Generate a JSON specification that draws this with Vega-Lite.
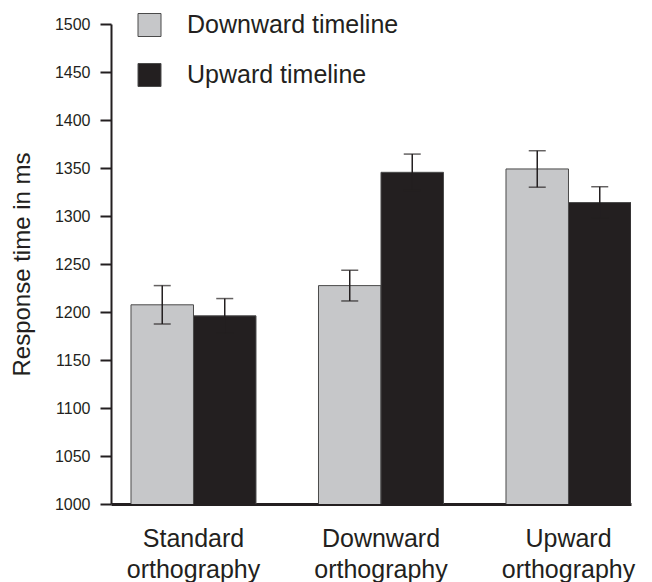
{
  "$schema": "https://vega.github.io/schema/vega-lite/v6.json",
  "autosize": "none",
  "width": 520,
  "height": 480,
  "padding": {"left": 111, "top": 24, "right": 21, "bottom": 78},
  "background": "white",
  "config": {
    "view": {"stroke": null},
    "font": "Liberation Sans"
  },
  "data": {
    "values": [
      {"orthography": "Standard orthography", "timeline": "Downward timeline", "rt": 1207.5, "lo": 1187.5, "hi": 1227.5},
      {"orthography": "Standard orthography", "timeline": "Upward timeline", "rt": 1196, "lo": 1178, "hi": 1214},
      {"orthography": "Downward orthography", "timeline": "Downward timeline", "rt": 1227.5, "lo": 1211.5, "hi": 1243.5},
      {"orthography": "Downward orthography", "timeline": "Upward timeline", "rt": 1345.5, "lo": 1326.5, "hi": 1364.5},
      {"orthography": "Upward orthography", "timeline": "Downward timeline", "rt": 1349, "lo": 1330, "hi": 1368},
      {"orthography": "Upward orthography", "timeline": "Upward timeline", "rt": 1314, "lo": 1298, "hi": 1330.5}
    ]
  },
  "encoding": {
    "x": {
      "field": "orthography",
      "type": "nominal",
      "sort": ["Standard orthography", "Downward orthography", "Upward orthography"],
      "scale": {"paddingInner": 0.3333, "paddingOuter": 0.0533, "align": 1},
      "axis": {
        "title": null,
        "labelAngle": 0,
        "labelExpr": "split(datum.label, ' ')",
        "labelFontSize": 25,
        "labelColor": "#231f20",
        "labelPadding": 22,
        "labelLineHeight": 31,
        "labelBaseline": "top",
        "labelLimit": 0,
        "ticks": false,
        "domainColor": "#231f20",
        "domainWidth": 3
      }
    },
    "xOffset": {
      "field": "timeline",
      "type": "nominal",
      "sort": ["Downward timeline", "Upward timeline"],
      "scale": {"paddingInner": 0, "paddingOuter": 0}
    }
  },
  "layer": [
    {
      "mark": {"type": "bar", "stroke": "#4a4a4a", "strokeWidth": 1, "clip": true},
      "encoding": {
        "y": {
          "field": "rt",
          "type": "quantitative",
          "scale": {"domain": [1000, 1500], "zero": false, "nice": false},
          "axis": {
            "title": "Response time in ms",
            "titleFontSize": 24,
            "titleFontWeight": "normal",
            "titleColor": "#231f20",
            "titleX": -77,
            "values": [1000, 1050, 1100, 1150, 1200, 1250, 1300, 1350, 1400, 1450, 1500],
            "format": "d",
            "grid": false,
            "labelFontSize": 16,
            "labelColor": "#231f20",
            "labelPadding": 10,
            "tickSize": 11,
            "tickWidth": 2,
            "tickColor": "#231f20",
            "domainColor": "#231f20",
            "domainWidth": 2
          }
        },
        "fill": {
          "field": "timeline",
          "type": "nominal",
          "sort": ["Downward timeline", "Upward timeline"],
          "scale": {"range": ["#c6c7c9", "#231f20"]},
          "legend": {
            "title": null,
            "orient": "none",
            "legendX": 26,
            "legendY": -11.5,
            "padding": 0,
            "symbolType": "square",
            "symbolSize": 529,
            "symbolStrokeColor": "#4a4a4a",
            "symbolStrokeWidth": 1,
            "labelFontSize": 25,
            "labelLimit": 0,
            "labelColor": "#231f20",
            "labelOffset": 25,
            "rowPadding": 23
          }
        }
      }
    },
    {
      "mark": {"type": "rule", "color": "#231f20", "strokeWidth": 1.5},
      "encoding": {
        "y": {"field": "lo", "type": "quantitative"},
        "y2": {"field": "hi"}
      }
    },
    {
      "mark": {"type": "tick", "color": "#231f20", "thickness": 1.5, "size": 17},
      "encoding": {
        "y": {"field": "lo", "type": "quantitative"}
      }
    },
    {
      "mark": {"type": "tick", "color": "#231f20", "thickness": 1.5, "size": 17},
      "encoding": {
        "y": {"field": "hi", "type": "quantitative"}
      }
    }
  ]
}
